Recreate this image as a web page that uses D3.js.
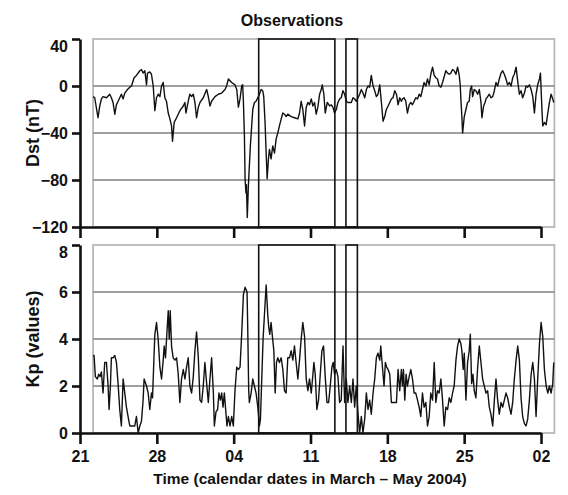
<!DOCTYPE html>
<html>
<head>
<meta charset="utf-8">
<script src="https://cdn.jsdelivr.net/npm/d3@7"></script>
<style>
    body { margin: 0; background: #ffffff; }
    text { font-family: "Liberation Sans", Arial, sans-serif; font-weight: bold; fill: #111; }
</style>
</head>
<body>
<svg id="drawing_region"></svg>
<script>
// time is given in days after 21 March 2004 (UTC)
const dst = [
    [1.19,-9],[1.34,-10],[1.64,-27],[1.80,-17],[1.95,-11],[2.10,-9],[2.41,-10],[2.71,-7],[2.86,-10],[3.01,-14],
    [3.17,-24],[3.32,-16],[3.62,-10],[3.77,-7],[3.93,-11],[4.08,-6],[4.32,-3],[4.54,-1],[4.69,0],[4.93,7],
    [5.14,9],[5.45,13],[5.60,14],[5.75,11],[5.91,13],[6.06,1],[6.15,11],[6.36,12],[6.51,10],[6.67,0],
    [6.82,-21],[6.97,-10],[7.12,-7],[7.28,-9],[7.43,0],[7.58,3],[7.73,-10],[7.88,-13],[8.04,-23],[8.19,-28],
    [8.34,-34],[8.43,-47],[8.58,-31],[8.80,-27],[9.10,-21],[9.41,-17],[9.56,-14],[9.65,-23],[9.86,-13],[10.01,-7],
    [10.17,-9],[10.32,-7],[10.47,-14],[10.62,-27],[10.78,-18],[10.93,-14],[11.23,-10],[11.54,-3],[11.69,-9],[11.84,-17],
    [11.99,-13],[12.30,-9],[12.60,-7],[12.91,-6],[13.21,-3],[13.36,0],[13.52,6],[13.82,3],[14.12,1],[14.28,-3],
    [14.43,-18],[14.58,-11],[14.73,0],[14.82,1],[14.89,-14],[14.98,-43],[15.04,-79],[15.12,-91],[15.16,-84],[15.24,-112],
    [15.34,-85],[15.52,-51],[15.74,-20],[15.89,-14],[16.04,-13],[16.19,-10],[16.35,-7],[16.50,-3],[16.65,-4],[16.74,-9],
    [16.86,-31],[16.96,-57],[17.05,-79],[17.17,-62],[17.26,-54],[17.41,-62],[17.56,-51],[17.72,-57],[17.87,-45],[18.02,-40],
    [18.17,-34],[18.33,-28],[18.48,-23],[18.63,-24],[18.78,-26],[18.93,-24],[19.24,-26],[19.54,-27],[19.85,-28],[20.00,-23],
    [20.15,-13],[20.30,-20],[20.46,-34],[20.61,-18],[20.76,-14],[20.91,-16],[21.07,-11],[21.22,-17],[21.37,-14],[21.52,-24],
    [21.67,-18],[21.83,-7],[21.98,-3],[22.07,1],[22.22,-7],[22.34,-23],[22.53,-14],[22.74,-17],[22.89,-16],[23.04,-18],
    [23.19,-23],[23.35,-20],[23.50,-14],[23.65,-11],[23.80,-10],[23.96,-4],[24.11,-7],[24.26,-13],[24.41,-14],[24.72,-14],
    [24.87,-10],[25.02,-11],[25.17,-13],[25.33,-10],[25.48,-7],[25.63,-3],[25.78,-6],[25.94,-10],[26.09,-3],[26.24,0],
    [26.39,-1],[26.54,9],[26.70,0],[26.85,-4],[27.00,-9],[27.15,-7],[27.31,1],[27.46,-14],[27.61,-30],[27.76,-26],
    [27.91,-20],[28.07,-17],[28.37,-11],[28.52,-10],[28.68,-4],[28.83,-7],[28.98,-16],[29.13,-10],[29.28,-13],[29.38,-11],
    [29.53,-10],[29.68,-13],[29.83,-23],[29.99,-16],[30.14,-14],[30.29,-16],[30.44,-13],[30.59,-10],[30.75,-11],[30.90,-7],
    [31.05,-9],[31.20,-3],[31.35,3],[31.51,0],[31.66,6],[31.81,1],[31.96,10],[32.12,16],[32.27,9],[32.42,7],
    [32.57,6],[32.72,0],[32.88,-1],[33.03,3],[33.33,13],[33.49,11],[33.64,10],[33.79,11],[33.94,14],[34.09,13],
    [34.25,10],[34.40,16],[34.55,9],[34.64,1],[34.70,-11],[34.79,-26],[34.86,-40],[35.01,-26],[35.16,-20],[35.31,-14],
    [35.46,-13],[35.56,-3],[35.68,0],[35.77,-9],[35.92,-3],[36.07,-4],[36.23,-7],[36.38,-3],[36.53,-14],[36.62,-27],
    [36.77,-17],[36.90,-14],[36.99,-11],[37.14,-9],[37.29,-7],[37.44,-10],[37.60,-9],[37.75,-4],[37.90,3],[38.05,0],
    [38.20,6],[38.36,11],[38.51,13],[38.66,10],[38.81,6],[38.96,1],[39.12,3],[39.27,0],[39.42,7],[39.57,10],
    [39.73,16],[39.88,4],[40.03,-7],[40.18,-4],[40.33,-10],[40.49,-6],[40.64,0],[40.79,-1],[40.94,1],[41.10,-3],
    [41.25,-9],[41.40,-23],[41.55,-7],[41.70,1],[41.86,6],[41.95,11],[42.01,-3],[42.10,-23],[42.16,-34],[42.31,-31],
    [42.47,-33],[42.62,-23],[42.77,-14],[42.92,-7],[43.07,-11],[43.16,-14]
];

const kp = [
    [1.19,3.3],[1.28,3.3],[1.40,2.4],[1.58,2.3],[1.71,2.5],[1.83,2.4],[1.95,2.6],[2.10,1.7],[2.25,3.0],[2.41,3.0],
    [2.56,2.0],[2.65,1.0],[2.77,2.0],[2.86,3.2],[3.01,3.2],[3.17,3.3],[3.32,3.0],[3.47,2.1],[3.62,1.0],[3.77,0.3],
    [3.93,2.3],[4.08,1.7],[4.23,1.1],[4.38,0.7],[4.54,0.3],[4.84,0.3],[4.99,0.3],[5.14,0.7],[5.30,0.0],[5.45,0.3],
    [5.60,0.5],[5.75,1.4],[5.84,2.3],[6.06,2.0],[6.21,1.7],[6.36,1.0],[6.51,1.7],[6.61,1.5],[6.73,3.1],[6.82,4.2],
    [6.97,4.7],[7.12,4.0],[7.28,2.8],[7.43,2.3],[7.58,3.1],[7.67,3.7],[7.79,3.2],[7.91,4.2],[8.04,5.2],[8.13,4.0],
    [8.22,5.2],[8.34,3.7],[8.49,3.2],[8.65,3.1],[8.80,3.2],[8.95,2.5],[9.10,1.3],[9.25,2.3],[9.41,2.7],[9.56,2.3],
    [9.71,2.8],[9.86,3.2],[10.01,2.0],[10.17,1.7],[10.32,2.4],[10.47,3.5],[10.62,4.3],[10.78,3.2],[10.93,1.4],[11.08,1.3],
    [11.23,2.0],[11.38,3.0],[11.54,2.1],[11.69,1.3],[11.84,2.3],[11.99,3.2],[12.15,1.7],[12.24,0.3],[12.39,0.9],[12.54,1.0],
    [12.66,1.7],[12.79,1.4],[12.91,1.7],[13.03,1.1],[13.15,1.7],[13.27,1.0],[13.39,0.3],[13.52,0.7],[13.67,0.3],[13.82,0.7],
    [13.97,0.3],[14.12,1.8],[14.28,2.8],[14.43,2.7],[14.58,2.8],[14.73,4.2],[14.89,5.9],[15.04,6.2],[15.22,6.0],[15.28,4.5],
    [15.37,1.8],[15.43,1.3],[15.59,1.7],[15.74,2.3],[15.89,2.0],[16.04,1.7],[16.20,1.1],[16.35,0.3],[16.44,0.6],[16.56,2.3],
    [16.68,4.0],[16.80,5.0],[16.96,6.3],[17.11,5.0],[17.20,4.5],[17.29,4.2],[17.41,4.7],[17.53,4.1],[17.66,3.5],[17.78,1.7],
    [17.90,3.0],[18.02,3.2],[18.17,3.0],[18.33,3.2],[18.48,2.7],[18.63,1.8],[18.78,1.7],[18.93,3.2],[19.09,3.2],[19.24,3.5],
    [19.39,3.1],[19.54,3.7],[19.69,3.0],[19.85,2.3],[20.00,3.1],[20.15,4.0],[20.30,4.7],[20.46,4.1],[20.61,2.3],[20.76,1.8],
    [20.91,2.3],[21.07,1.7],[21.22,2.5],[21.31,3.0],[21.43,2.5],[21.58,1.0],[21.73,1.4],[21.89,2.5],[22.04,3.5],[22.19,3.7],
    [22.34,2.4],[22.50,1.3],[22.65,1.3],[22.80,2.0],[22.95,2.8],[23.07,3.0],[23.19,2.5],[23.35,2.7],[23.50,2.4],[23.65,1.3],
    [23.80,1.4],[23.96,3.7],[24.11,1.3],[24.26,2.3],[24.41,1.3],[24.57,2.0],[24.72,1.3],[24.87,2.3],[25.02,1.1],[25.17,2.0],
    [25.33,0.8],[25.48,0.0],[25.63,0.7],[25.78,0.0],[25.94,0.6],[26.09,1.7],[26.24,1.0],[26.39,1.4],[26.54,0.8],[26.70,1.7],
    [26.85,2.3],[27.00,3.2],[27.15,3.4],[27.31,3.1],[27.40,3.7],[27.52,3.0],[27.70,2.0],[27.82,3.0],[27.94,2.8],[28.07,2.7],
    [28.22,2.5],[28.37,1.3],[28.52,1.3],[28.68,1.3],[28.83,1.3],[28.98,2.7],[29.13,1.8],[29.28,2.7],[29.38,2.0],[29.47,2.7],
    [29.59,1.4],[29.71,2.5],[29.83,2.0],[29.99,2.4],[30.14,2.7],[30.29,2.3],[30.44,1.7],[30.59,1.7],[30.75,1.4],[30.90,1.1],
    [31.05,0.7],[31.20,1.7],[31.35,1.1],[31.51,1.3],[31.66,0.3],[31.81,0.7],[31.96,1.7],[32.12,1.4],[32.27,3.0],[32.42,1.3],
    [32.57,1.8],[32.72,1.7],[32.88,2.3],[33.03,1.4],[33.18,0.3],[33.33,1.1],[33.49,1.0],[33.64,1.5],[33.79,1.3],[33.94,1.7],
    [34.09,2.0],[34.25,3.1],[34.40,3.7],[34.55,4.0],[34.70,3.8],[34.79,3.5],[34.91,2.7],[35.01,3.4],[35.16,1.4],[35.31,3.0],
    [35.46,3.5],[35.56,4.2],[35.68,2.1],[35.80,2.5],[35.92,1.8],[36.07,1.5],[36.23,2.8],[36.38,3.7],[36.53,3.0],[36.68,2.3],
    [36.83,2.0],[36.99,1.7],[37.14,1.8],[37.29,1.1],[37.44,0.8],[37.60,0.3],[37.75,1.4],[37.90,2.3],[38.05,1.4],[38.20,0.8],
    [38.36,1.3],[38.51,1.1],[38.66,1.4],[38.81,1.7],[38.96,1.5],[39.12,1.1],[39.27,0.8],[39.42,1.3],[39.57,2.3],[39.73,3.1],
    [39.88,3.7],[40.03,3.1],[40.18,1.5],[40.33,0.7],[40.49,0.4],[40.64,0.3],[40.79,0.6],[40.94,1.4],[41.10,2.5],[41.25,3.0],
    [41.40,2.3],[41.55,0.7],[41.70,2.3],[41.86,3.8],[42.01,4.7],[42.16,4.1],[42.31,2.7],[42.47,2.0],[42.62,1.7],[42.77,2.0],
    [42.92,1.7],[43.07,2.1],[43.16,3.0]
];

// selected intervals (boxes), days after 21 March
const intervals = [[16.28, 23.22], [24.23, 25.27]];
// extent of the observation record
const recordSpan = [1.19, 43.22];

const dateTicks = ["2004-03-21", "2004-03-28", "2004-04-04", "2004-04-11", "2004-04-18", "2004-04-25", "2004-05-02"];
const dstTicks = [40, 0, -40, -80, -120];
const dstGrid = [0, -40, -80];
const kpTicks = [8, 6, 4, 2, 0];
const kpGrid = [6, 4, 2];

const start = Date.UTC(2004, 2, 21);
const toDate = d => new Date(start + d * 864e5);
const parse = d3.utcParse("%Y-%m-%d");
const tickDates = dateTicks.map(parse);

const svg = d3.select('#drawing_region')
    .attr('width', 568)
    .attr('height', 495);

const xscale = d3.scaleUtc()
    .domain([tickDates[0], tickDates[tickDates.length - 1]])
    .range([80, 541]);

class Panel {

    constructor( config, data ) {
        this.config = config;
        this.data = data;
        this.init();
    }

    init() {
        let self = this;

        self.chart = svg.append('g');

        self.yscale = d3.scaleLinear()
            .domain( self.config.domain )
            .range( [self.config.bottom, self.config.top] );

        self.line = d3.line()
            .x( d => xscale( toDate(d[0]) ) )
            .y( d => self.yscale( d[1] ) );
    }

    render() {
        let self = this;
        const top = self.config.top, bottom = self.config.bottom;
        const x0 = xscale( toDate(recordSpan[0]) ), x1 = xscale( toDate(recordSpan[1]) );

        // light frame round the record
        self.chart.append('rect')
            .attr('x', x0).attr('y', top)
            .attr('width', x1 - x0).attr('height', bottom - top)
            .attr('fill', 'none')
            .attr('stroke', '#b8b8b8')
            .attr('stroke-width', 1.8);

        self.chart.selectAll('.grid')
            .data( self.config.grid )
            .enter()
            .append('line')
            .attr('x1', x0).attr('x2', x1)
            .attr('y1', d => self.yscale(d)).attr('y2', d => self.yscale(d))
            .attr('stroke', '#808080')
            .attr('stroke-width', 1.4);

        self.chart.append('path')
            .attr('d', self.line( self.data ))
            .attr('fill', 'none')
            .attr('stroke', '#111')
            .attr('stroke-width', 1.4)
            .attr('stroke-linejoin', 'round');

        self.chart.selectAll('.box')
            .data( intervals )
            .enter()
            .append('rect')
            .attr('x', d => xscale( toDate(d[0]) ))
            .attr('width', d => xscale( toDate(d[1]) ) - xscale( toDate(d[0]) ))
            .attr('y', top)
            .attr('height', bottom - top)
            .attr('fill', 'none')
            .attr('stroke', '#111')
            .attr('stroke-width', 1.6);

        const yaxis = d3.axisLeft( self.yscale )
            .tickValues( self.config.ticks )
            .tickSize(8)
            .tickSizeOuter(0)
            .tickPadding(4);

        const xaxis = d3.axisBottom( xscale )
            .tickValues( tickDates )
            .tickSize(11)
            .tickSizeOuter(0)
            .tickPadding(7)
            .tickFormat( self.config.xlabels ? d3.utcFormat('%d') : '' );

        const ygroup = self.chart.append('g')
            .attr('transform', 'translate(80,0)')
            .call( yaxis );

        const xgroup = self.chart.append('g')
            .attr('transform', `translate(0,${bottom})`)
            .call( xaxis );

        [ygroup, xgroup].forEach( g => {
            g.selectAll('path, line')
                .attr('stroke', '#111')
                .attr('stroke-width', 2.6);
            g.selectAll('text')
                .attr('font-size', 16)
                .attr('font-family', '"Liberation Sans", Arial, sans-serif')
                .attr('font-weight', 'bold')
                .attr('fill', '#111');
        });

        // top label sits a little lower, as in the original
        ygroup.selectAll('text')
            .filter( d => d === self.config.domain[1] )
            .attr('dy', '0.75em');

        self.chart.append('text')
            .attr('transform', `translate(39,${(top + bottom) / 2}) rotate(-90)`)
            .attr('text-anchor', 'middle')
            .attr('font-size', 18)
            .text( self.config.label );
    }
}

const dstPanel = new Panel( {
    top: 39, bottom: 227,
    domain: [-120, 40],
    ticks: dstTicks, grid: dstGrid,
    label: 'Dst (nT)', xlabels: false
}, dst );
dstPanel.render();

const kpPanel = new Panel( {
    top: 245, bottom: 433,
    domain: [0, 8],
    ticks: kpTicks, grid: kpGrid,
    label: 'Kp (values)', xlabels: true
}, kp );
kpPanel.render();

svg.append('text')
    .attr('x', 292)
    .attr('y', 26)
    .attr('text-anchor', 'middle')
    .attr('font-size', 16)
    .text('Observations');

svg.append('text')
    .attr('x', 310)
    .attr('y', 484)
    .attr('text-anchor', 'middle')
    .attr('font-size', 15.5)
    .text('Time (calendar dates in March – May 2004)');
</script>
</body>
</html>
